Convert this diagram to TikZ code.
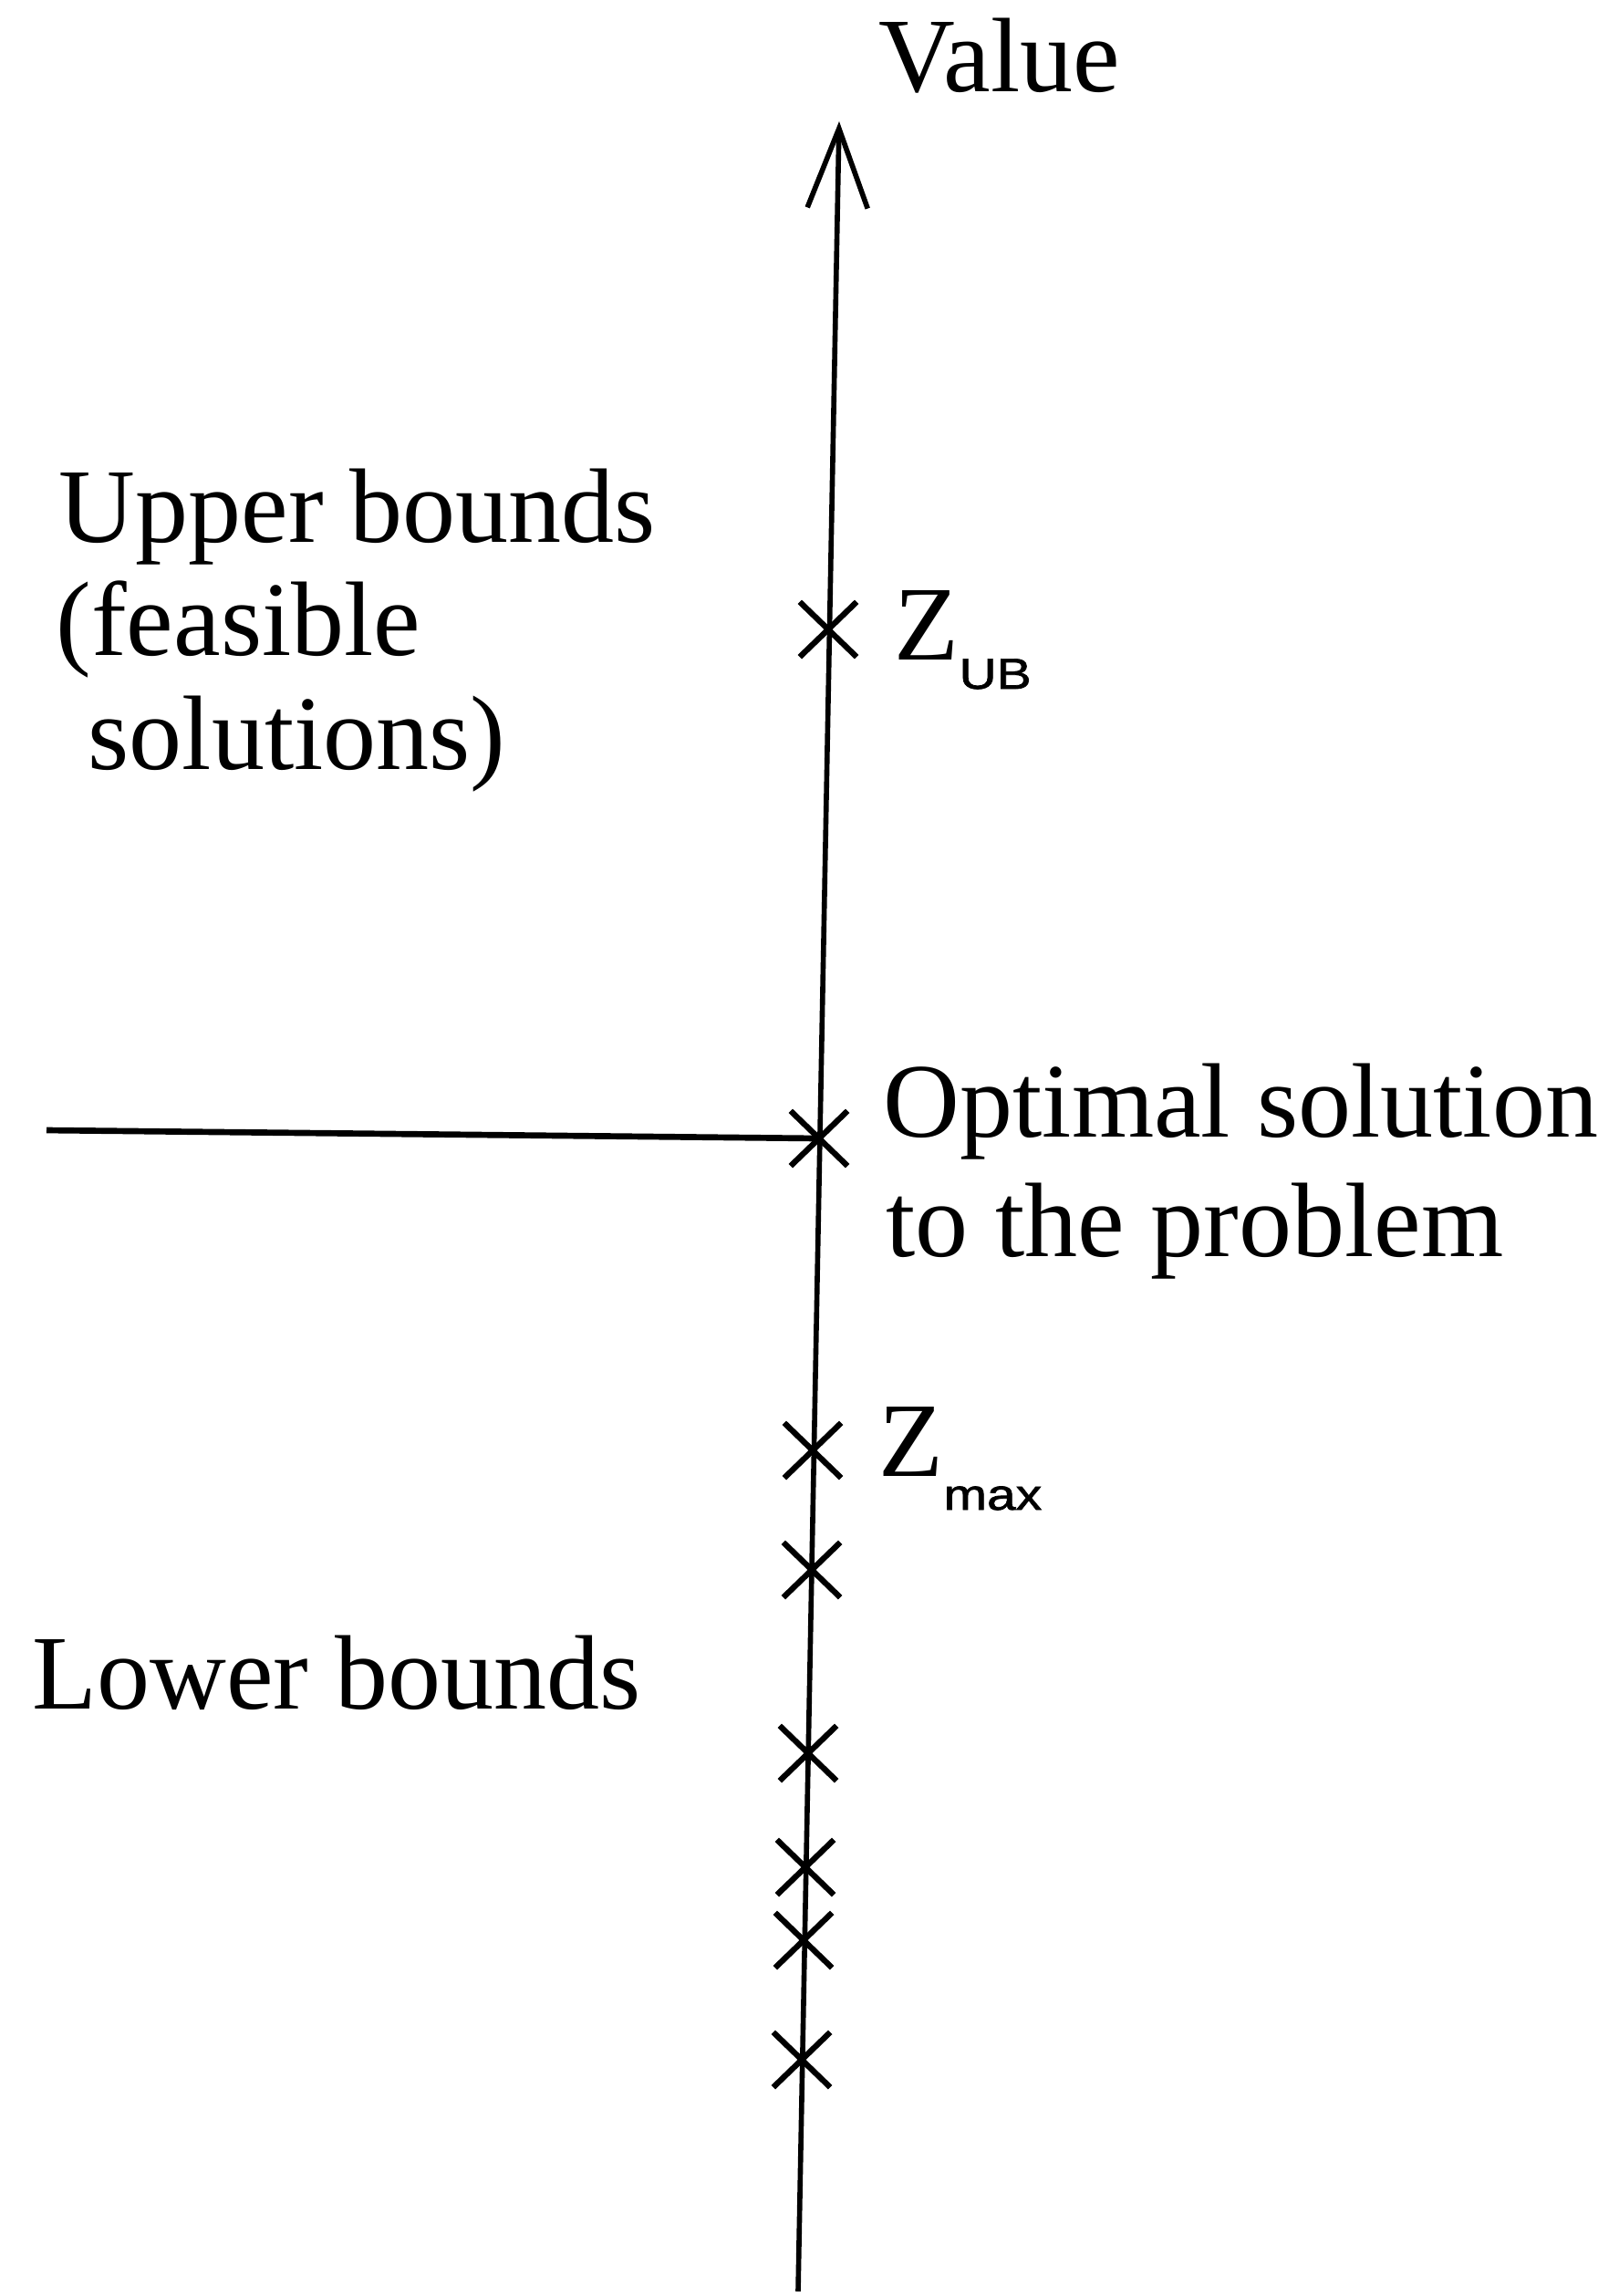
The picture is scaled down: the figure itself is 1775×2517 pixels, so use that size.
\documentclass[tikz,border=0pt]{standalone}
\usepackage{fontspec}
\setmainfont{Liberation Serif}
\newfontfamily\subfont[FakeStretch=1.2,FakeBold=1.5]{Liberation Sans}
\usetikzlibrary{arrows.meta,shapes.misc}

\newcommand\tief[2]{\raisebox{#1}{\fontsize{13.5}{13.5}\subfont #2}}

\begin{document}
\begin{tikzpicture}[
  x = 0.01cm, y = -0.01cm,
  every node/.style = {
    inner sep = 0pt,
    font = \fontsize{33}{36}\selectfont
  },
  txt/.style = {anchor = base west},
  kreuz/.style = {
    cross out, draw, line width = 1.8pt,
    minimum width = 0.56cm, minimum height = 0.54cm
  },
  achse/.style = {
    line width = 1.6pt,
    -{Straight Barb[length=0.87cm, width=0.66cm]}
  }
]
  \useasboundingbox (0,0) rectangle (1775,2517);

  % Achse
  \coordinate (unten) at (875,2512);
  \coordinate (oben)  at (920,133);
  \draw[achse] (unten) -- (oben);

  % Kreuze
  \node[kreuz] (ub)  at (908,690)  {};
  \node[kreuz] (opt) at (898,1248) {};
  \node[kreuz] (max) at (891,1590) {};
  \node[kreuz] (lb1) at (890,1721) {};
  \node[kreuz] (lb2) at (886,1922) {};
  \node[kreuz] (lb3) at (883,2047) {};
  \node[kreuz] (lb4) at (881,2127) {};
  \node[kreuz] (lb5) at (879,2258) {};

  % Linie zum Optimum
  \coordinate (links) at (51,1239);
  \draw[line width=1.9pt] (links) -- (opt.center);

  % Beschriftungen
  \node[txt] (wert)  at (963,100)  {Value};
  \node[txt] (ob1)   at (64,594)   {Upper bounds};
  \node[txt] (ob2)   at (61,718)   {(feasible};
  \node[txt] (ob3)   at (96,843)   {solutions)};
  \node[txt] (zub)   at (980,723)  {Z\tief{-0.32cm}{UB}};
  \node[txt] (optt1) at (968,1246) {Optimal solution};
  \node[txt] (optt2) at (971,1377) {to the problem};
  \node[txt] (zmax)  at (963,1618) {Z\tief{-0.37cm}{max}};
  \node[txt] (unt)   at (35,1873)  {Lower bounds};
\end{tikzpicture}
\end{document}
